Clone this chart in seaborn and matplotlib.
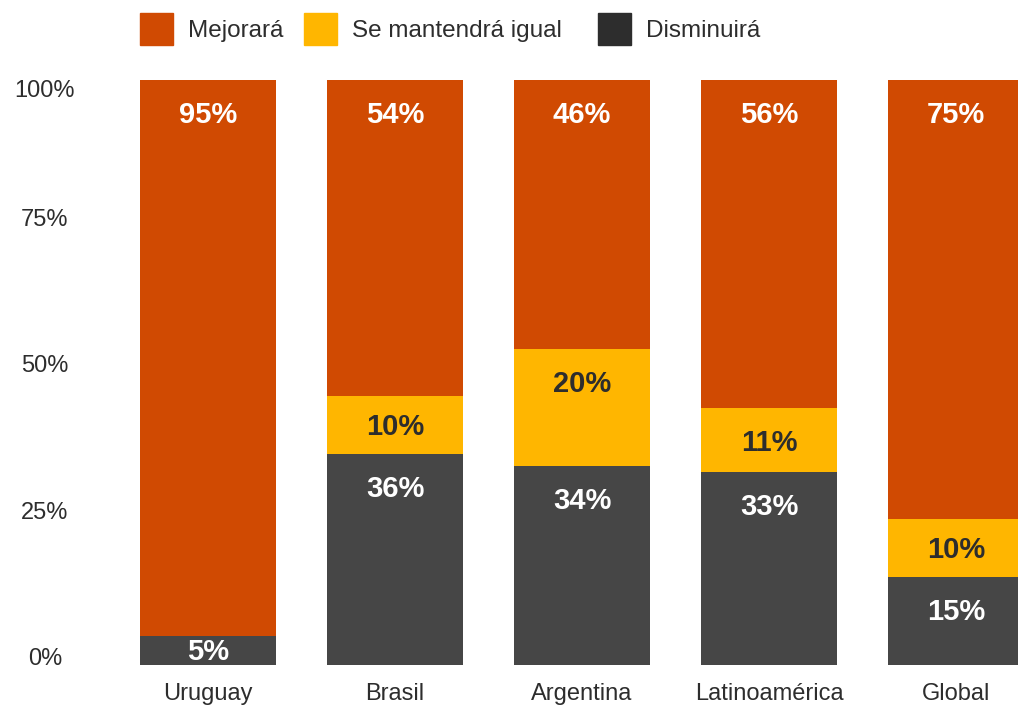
import matplotlib
matplotlib.use("Agg")
import matplotlib.pyplot as plt
from matplotlib.patches import Patch
import seaborn as sns
import pandas as pd
import numpy as np

# Survey data (percent of respondents)
paises = ["Uruguay", "Brasil", "Argentina", "Latinoamérica", "Global"]
disminuira = [5, 36, 34, 33, 15]
igual = [0, 10, 20, 11, 10]
mejorara = [95, 54, 46, 56, 75]
series_names = ["Mejorará", "Se mantendrá igual", "Disminuirá"]
yticks = [0, 25, 50, 75, 100]
ytick_labels = ["0%", "25%", "50%", "75%", "100%"]

C_ORANGE = "#D04A02"
C_YELLOW = "#FFB600"
C_BAR_DARK = "#464646"
C_DARK = "#2D2D2D"

sns.set_theme(style="white")
plt.rcParams["font.family"] = ["Liberation Sans", "DejaVu Sans"]

W, H = 1018, 705
fig = plt.figure(figsize=(W / 100, H / 100), dpi=100)

# axes geometry in pixels
ax_left_px, ax_right_px = 100, W
y0_px, y100_px = 665, 80
ax = fig.add_axes([ax_left_px / W, (H - y0_px) / H,
                   (ax_right_px - ax_left_px) / W, (y0_px - y100_px) / H])

df = pd.DataFrame({"pais": paises, "dis": disminuira,
                   "igu": igual, "mej": mejorara})
bottom_igual = np.array(disminuira)
bottom_mej = np.array(disminuira) + np.array(igual)

bar_w = 136 / 187
common = dict(data=df, x="pais", width=bar_w, saturation=1, ax=ax,
              order=paises, linewidth=0, edgecolor="none")
sns.barplot(y="dis", color=C_BAR_DARK, **common)
sns.barplot(y="igu", color=C_YELLOW, bottom=bottom_igual, **common)
sns.barplot(y="mej", color=C_ORANGE, bottom=bottom_mej, **common)

# x range so that category centers land at 208 + 187*i pixels
ax.set_xlim((ax_left_px - 208) / 187, (ax_right_px - 208) / 187)
ax.set_ylim(0, 100)
ax.set_xlabel("")
ax.set_ylabel("")
for s in ax.spines.values():
    s.set_visible(False)

# value labels near the top of each segment
px_per_unit = (y0_px - y100_px) / 100
drop = 35 / px_per_unit
for i in range(len(paises)):
    segs = [(0, disminuira[i], "white"),
            (disminuira[i], igual[i], C_DARK),
            (disminuira[i] + igual[i], mejorara[i], "white")]
    for base, val, tc in segs:
        if val <= 0:
            continue
        top = base + val
        y = top - drop if val * px_per_unit > 64 else base + val / 2 - 1.5 / px_per_unit
        ax.text(i, y, f"{val}%", ha="center", va="center", color=tc,
                fontsize=21, fontweight="bold")

# y tick labels
ax.set_yticks(yticks)
ax.set_yticklabels(ytick_labels)
ax.tick_params(axis="y", length=0, pad=(ax_left_px - 45) * 0.72,
               labelsize=17, labelcolor=C_DARK)
for lab in ax.get_yticklabels():
    lab.set_horizontalalignment("center")
    lab.set_verticalalignment("top" if lab.get_text() == "100%" else "baseline")

ax.tick_params(axis="x", length=0, pad=13, labelsize=17, labelcolor=C_DARK)

# legend: one entry per box so each swatch sits at its own x position
legend_colors = [C_ORANGE, C_YELLOW, C_DARK]
legend_x_px = [140, 304, 598]
for name, col, xpx in zip(series_names, legend_colors, legend_x_px):
    leg = fig.legend(handles=[Patch(color=col, label=name)], loc="center left",
                     bbox_to_anchor=(xpx / W, 1 - 29 / H), frameon=False,
                     fontsize=17.5, handlelength=1.36, handleheight=1.71,
                     handletextpad=0.62, borderpad=0, borderaxespad=0,
                     labelcolor=C_DARK)

fig.savefig("out.png", dpi=100)
